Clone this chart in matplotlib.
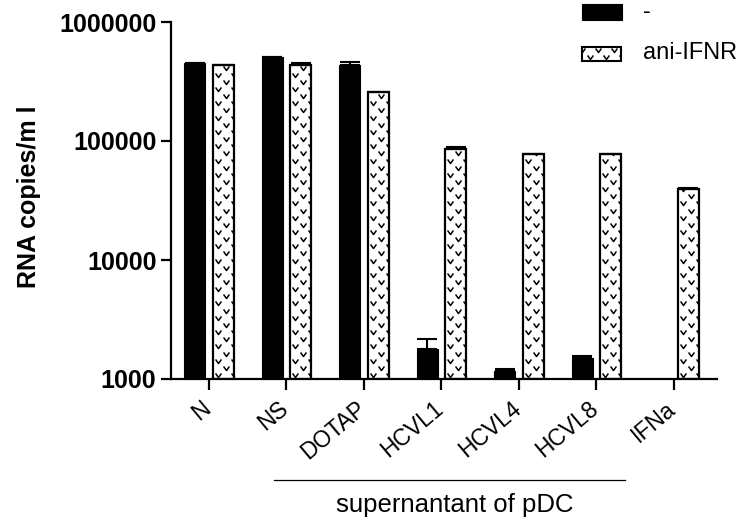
import matplotlib

matplotlib.use("Agg")
import numpy as np
from matplotlib import pyplot as plt  # noqa: E402
from matplotlib.lines import Line2D
from matplotlib.patches import Rectangle
from matplotlib.path import Path
from matplotlib.transforms import IdentityTransform, ScaledTranslation

plt.rcParams["font.family"] = ["Liberation Sans", "DejaVu Sans"]

# RNA copies/ml per condition, without and with anti-IFN receptor antibody
groups = ["N", "NS", "DOTAP", "HCVL1", "HCVL4", "HCVL8", "IFNa"]
plain = np.array([452000, 508000, 436000, 1790, 1170, 1500, np.nan])
plain_err = [0, 0, 25000, 380, 40, 60, 0]
blocked = np.array([436000, 436000, 258000, 85800, 77900, 77900, 39500])
blocked_err = [0, 16000, 0, 3200, 0, 0, 800]
series_names = ["-", "ani-IFNR"]
bracket_label = "supernantant of pDC"

W, H = 746, 529
BASE = 1000
fig = plt.figure(figsize=(W / 100, H / 100), dpi=100)
ax = fig.add_axes([171 / W, 150 / H, 546 / W, 357 / H])

x = np.arange(len(groups))
width = 0.27
offset = 0.185

ax.set_yscale("log")
ax.set_xlim(-0.49, 6.555)
ax.set_ylim(BASE, 1000000)
ax.autoscale(False)

black_bars = ax.bar(x - offset, plain - BASE, width, bottom=BASE,
                    color="black", edgecolor="black", linewidth=0.8, zorder=2)
open_bars = ax.bar(x + offset, blocked - BASE, width, bottom=BASE,
                   color="white", edgecolor="black", linewidth=1.6, zorder=2)

err_kw = dict(fmt="none", ecolor="black", elinewidth=1.5, capsize=7,
              capthick=1.5, zorder=3)
ax.errorbar(x - offset, plain, yerr=[np.zeros(len(x)), plain_err], **err_kw)
ax.errorbar(x + offset, blocked, yerr=[np.zeros(len(x)), blocked_err], **err_kw)

# small chevron fill pattern, laid out in pixel space
chevron = Path([(-1.0, 0.7), (0.0, -0.7), (1.0, 0.7)])
chev_kw = dict(ls="none", marker=chevron, ms=4.2, mfc="none", mec="black",
               mew=1.1)


def chevron_grid(x0, y0, x1, y1, period=16.0, row=7.15, start=5.0):
    pts = []
    k = 0
    yy = y0 + 4
    while yy < y1 + row:
        shift = start if k % 2 == 0 else start + period / 2
        xx = x0 + shift - period
        while xx < x1 + period:
            pts.append((xx, yy))
            xx += period
        yy += row
        k += 1
    return np.array(pts)


for bar in open_bars:
    (px0, py0), (px1, py1) = ax.transData.transform(
        [(bar.get_x(), BASE), (bar.get_x() + bar.get_width(),
                               bar.get_y() + bar.get_height())])
    pix = chevron_grid(px0, py0, px1, py1)
    data = ax.transData.inverted().transform(pix)
    (pat,) = ax.plot(data[:, 0], data[:, 1], scalex=False, scaley=False,
                     zorder=2.5, **chev_kw)
    pat.set_clip_path(bar)

ax.spines[["top", "right"]].set_visible(False)
ax.spines[["left", "bottom"]].set_linewidth(1.6)
ax.set_yticks([1000, 10000, 100000, 1000000])
ax.set_yticklabels(["1000", "10000", "100000", "1000000"],
                   fontsize=18, fontweight="bold")
ax.minorticks_off()
ax.tick_params(axis="y", length=7, width=1.6, pad=3.5)
ax.tick_params(axis="x", length=8, width=1.6, pad=5)
ax.set_xticks(x)
ax.set_xticklabels(groups, rotation=40, ha="right", va="top", fontsize=16.5)
shift = ScaledTranslation(4.5 / 72, 0, fig.dpi_scale_trans)
for lab in ax.get_xticklabels():
    lab.set_transform(lab.get_transform() + shift)
ax.set_ylabel("RNA copies/m l", fontsize=18, fontweight="bold")
ax.yaxis.set_label_coords(-0.238, 0.51)

# bracket under the pDC supernatant conditions
fig.add_artist(Line2D([274 / W, 625 / W], [1 - 480 / H, 1 - 480 / H],
                      transform=fig.transFigure, color="black", lw=0.9))
fig.text(455 / W, 1 - 505 / H, bracket_label, ha="center", va="center",
         fontsize=18.5)

# legend
fig.add_artist(Rectangle((582 / W, 1 - 20 / H), 40 / W, 16 / H,
                         transform=fig.transFigure, facecolor="black",
                         edgecolor="black", lw=0.8))
box = Rectangle((582 / W, 1 - 61 / H), 39 / W, 14 / H,
                transform=fig.transFigure, facecolor="white",
                edgecolor="black", lw=1.5)
fig.add_artist(box)
pix = chevron_grid(582, H - 61, 621, H - 47, start=8.0)
leg_pat = Line2D(pix[:, 0], pix[:, 1], transform=IdentityTransform(),
                 **chev_kw)
fig.add_artist(leg_pat)
leg_pat.set_clip_path(box)
fig.text(643 / W, 1 - 12 / H, series_names[0], ha="left", va="center",
         fontsize=17)
fig.text(643 / W, 1 - 53 / H, series_names[1], ha="left", va="center",
         fontsize=17)

fig.savefig("out.png", dpi=100)
